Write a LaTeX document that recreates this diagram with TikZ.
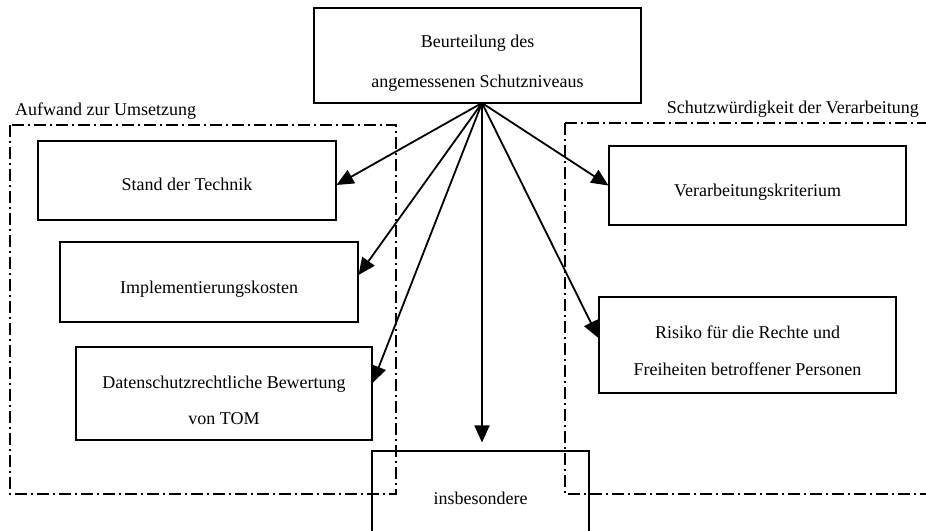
\documentclass[tikz,border=0pt]{standalone}
\usepackage{fontspec}
\setmainfont{Liberation Serif}
\usetikzlibrary{arrows.meta}

\tikzset{
  box/.style={draw, line width=1.1pt, inner sep=0pt},
  boxtext/.style={align=center, inner sep=0pt, yshift=-7pt},
  frame/.style={line width=1.8pt, dash pattern=on 12pt off 4pt on 2pt off 4pt},
  arr/.style={line width=1.8pt, -{Triangle[length=17pt,width=15pt]}},
  lbl/.style={inner sep=0pt},
}

\begin{document}
\begin{tikzpicture}[x=1pt, y=-1pt,
  font=\fontsize{18}{37}\selectfont]
  \clip (0,0) rectangle (926,530);
  \fill[white] (0,0) rectangle (926,530);

  % central question
  \node[box, minimum width=327pt, minimum height=95pt,
        label={[boxtext, yshift=-1pt, font=\fontsize{18}{40}\selectfont]center:Beurteilung des\\angemessenen Schutzniveaus}]
        (top) at (477.5,55.5) {};
  \coordinate (hub) at (482,103);

  % left group: effort of implementation
  \node[box, minimum width=298pt, minimum height=79pt,
        label={[boxtext, yshift=3pt]center:Stand der Technik}]
        (stand) at (187,180.5) {};
  \node[box, minimum width=298pt, minimum height=80pt,
        label={[boxtext]center:Implementierungskosten}]
        (impl) at (209,282) {};
  \node[box, minimum width=296pt, minimum height=93pt,
        label={[boxtext, font=\fontsize{18}{36}\selectfont]center:Datenschutzrechtliche Bewertung\\von TOM}]
        (daten) at (224,393.5) {};

  % right group: need for protection
  \node[box, minimum width=297pt, minimum height=79pt,
        label={[boxtext]center:Verarbeitungskriterium}]
        (verarb) at (757.5,185.5) {};
  \node[box, minimum width=297pt, minimum height=96pt,
        label={[boxtext, yshift=1.5pt]center:Risiko für die Rechte und\\Freiheiten betroffener Personen}]
        (risiko) at (747.5,345) {};

  % bottom box, running past the lower edge
  \node[box, minimum width=217pt, minimum height=94pt] (insb) at (480.5,498)
        {insbesondere};
  \draw[line width=1.1pt] (insb.south west) -- ++(0,40)
        (insb.south east) -- ++(0,40);

  % group frames
  \draw[frame] (10,125) rectangle (396,494);
  \draw[frame] (565,123) -- (945,123) (565,123) -- (565,494) -- (945,494);
  \node[lbl, anchor=west] (lgroup) at (15,111) {Aufwand zur Umsetzung};
  \node[lbl, anchor=east] (rgroup) at (919,109) {Schutzwürdigkeit der Verarbeitung};

  % connectors
  \draw[arr] (hub) -- ([yshift=-4.5pt]stand.east);
  \draw[arr] (hub) -- ([yshift=7pt]impl.east);
  \draw[arr] (hub) -- ([yshift=10.5pt]daten.east);
  \draw[arr, shorten >=8pt] (hub) -- (hub |- insb.north);
  \draw[arr] (hub) -- (verarb.west);
  \draw[arr] (hub) -- ([yshift=7pt]risiko.west);
\end{tikzpicture}
\end{document}
